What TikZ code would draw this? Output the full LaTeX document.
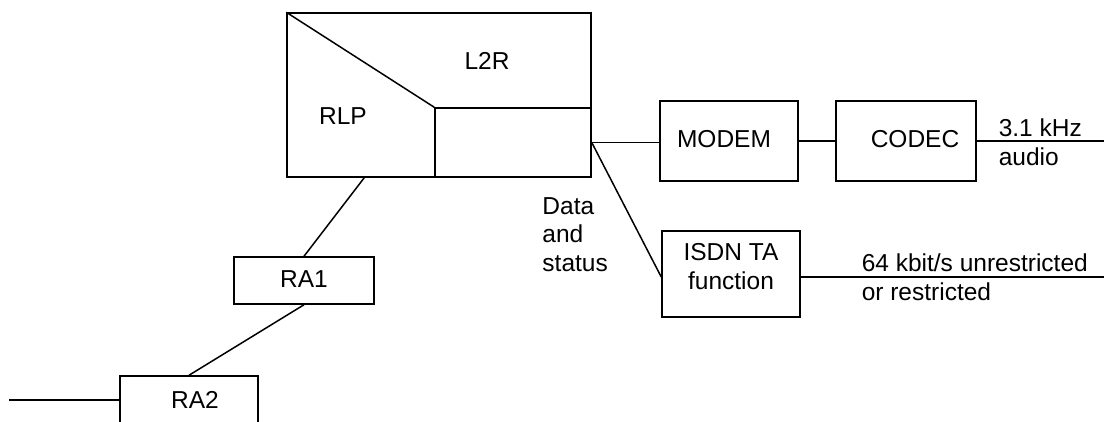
\documentclass[tikz,border=0pt]{standalone}
\usepackage{fontspec}
\setmainfont{Liberation Sans}
\usetikzlibrary{calc}
\begin{document}
\begin{tikzpicture}[x=1pt,y=-1pt,
  line width=1.5pt,
  every node/.style={font=\fontsize{24.5}{28.5}\selectfont, inner sep=0pt},
  blk/.style={draw, rectangle, line width=1.5pt},
  txt/.style={anchor=base west},
  lbl/.style={align=center}]
\useasboundingbox (0,0) rectangle (1106,421);
\clip (0,0) rectangle (1106,421);
% main L2R/RLP block
\node[blk, minimum width=304pt, minimum height=164pt] (big) at (439,95) {};
\node[blk, minimum width=156pt, minimum height=69pt] (sub) at (513,142.5) {};
\draw (big.north west) -- (sub.north west);
\node (l2r) at (487,61) {L2R};
\node (rlp) at (343,116) {RLP};
% rate adaptation
\node[blk, minimum width=140pt, minimum height=47pt] (ra1) at (304,280.5) {};
\node (ra1l) at (304,279) {RA1};
\node[blk, minimum width=138pt, minimum height=48pt] (ra2) at (189,400) {};
\node (ra2l) at (195,400) {RA2};
\coordinate (in) at (9,400);
\draw ($(big.south west)+(78,0)$) -- (ra1.north);
\draw (ra1.south) -- (ra2.north);
\draw (in) -- (ra2.west);
% modem / codec
\node[blk, minimum width=138pt, minimum height=80pt] (modem) at (729,141) {};
\node (modeml) at (724,139) {MODEM};
\node[blk, minimum width=140pt, minimum height=80pt] (codec) at (906,141) {};
\node (codecl) at (915,139) {CODEC};
\coordinate (outa) at (1104,141);
\draw (sub.east) -- (sub.east -| modem.west);
\draw (modem.east) -- (codec.west);
\draw (codec.east) -- (outa);
\node[txt] (khz) at (998,136.7) {3.1 kHz};
\node[txt] (aud) at (998,165) {audio};
% ISDN TA
\node[blk, minimum width=138pt, minimum height=86pt] (isdn) at (731,274) {};
\node[lbl] (isdnl) at (731,266.5) {ISDN TA\\function};
\coordinate (outb) at (1104,277);
\draw (sub.east) -- (isdn.west |- outb);
\draw (isdn.east |- outb) -- (outb);
\node[txt] (r64) at (861,271.7) {64 kbit/s unrestricted};
\node[txt] (rres) at (861,300.2) {or restricted};
% data and status label
\node[txt] (d1) at (541.7,214) {Data};
\node[txt] (d2) at (541.7,242.5) {and};
\node[txt] (d3) at (541.7,271) {status};
\end{tikzpicture}
\end{document}
